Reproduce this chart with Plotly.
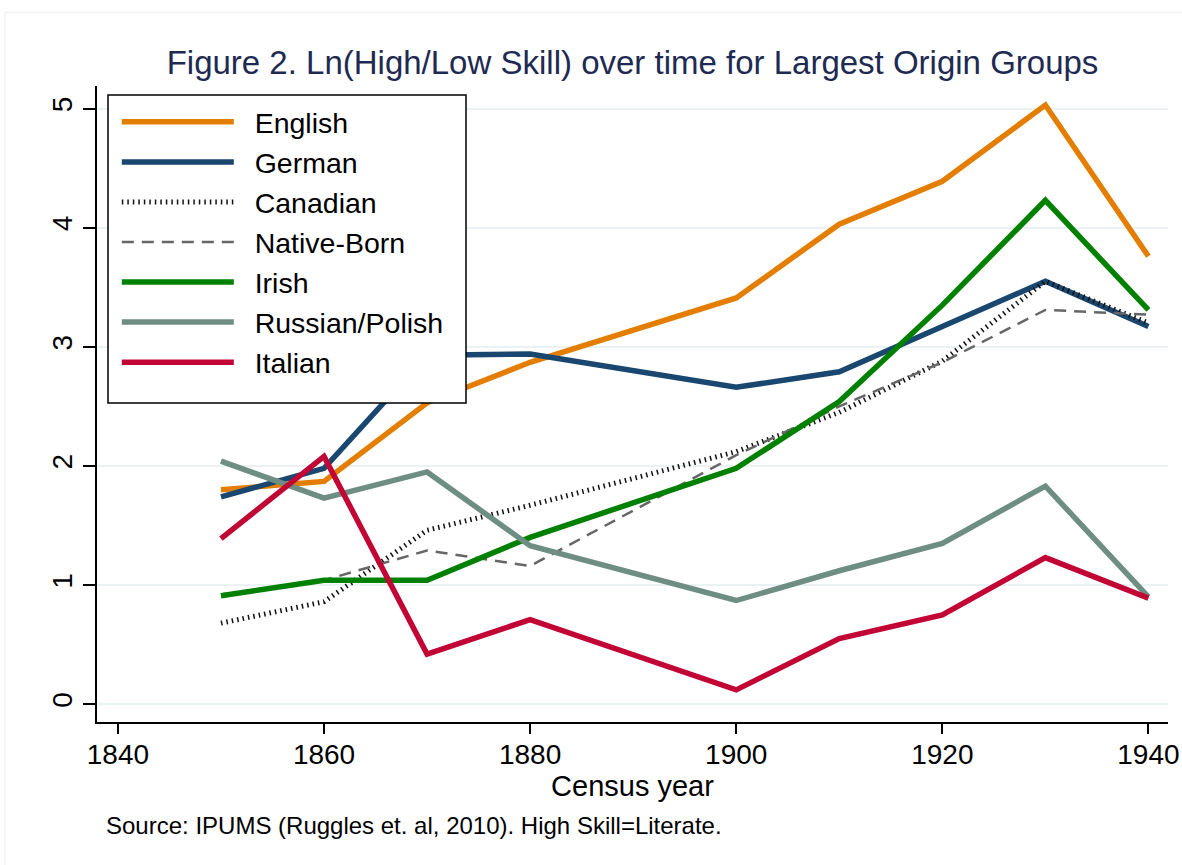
import plotly.graph_objects as go

years = [1850, 1860, 1870, 1880, 1900, 1910, 1920, 1930, 1940]
english = [1.80, 1.87, 2.53, 2.87, 3.41, 4.03, 4.39, 5.03, 3.76]
german = [1.74, 1.98, 2.93, 2.94, 2.66, 2.79, 3.17, 3.55, 3.17]
canadian = [0.68, 0.86, 1.46, 1.67, 2.12, 2.45, 2.88, 3.55, 3.20]
native = [0.92, 1.04, 1.29, 1.16, 2.09, 2.50, 2.87, 3.31, 3.27]
irish = [0.91, 1.04, 1.04, 1.40, 1.98, 2.54, 3.35, 4.23, 3.31]
russian = [2.04, 1.73, 1.95, 1.33, 0.87, 1.12, 1.35, 1.83, 0.90]
italian = [1.39, 2.08, 0.42, 0.71, 0.12, 0.55, 0.75, 1.23, 0.89]

x_ticks = [1840, 1860, 1880, 1900, 1920, 1940]
y_ticks = [0, 1, 2, 3, 4, 5]

series = [
    ("English", english, dict(color="#e37e00", width=5.5)),
    ("German", german, dict(color="#1a476f", width=5.5)),
    ("Canadian", canadian, dict(color="#111111", width=5, dash="1.5px,4px")),
    ("Native-Born", native, dict(color="#666666", width=2.5, dash="12px,8px")),
    ("Irish", irish, dict(color="#008000", width=5.5)),
    ("Russian/Polish", russian, dict(color="#6e8e84", width=5.5)),
    ("Italian", italian, dict(color="#c10534", width=5.5)),
]

NB = "\u00a0\u00a0"
fig = go.Figure()
for name, vals, line in series:
    fig.add_trace(go.Scatter(x=years, y=vals, name=NB + name, mode="lines", line=line,
                             legendgroup=name))

font = "Liberation Sans, Arial, sans-serif"
fig.update_layout(
    width=1182, height=865,
    margin=dict(l=97, r=14, t=86, b=143, autoexpand=False),
    paper_bgcolor="white", plot_bgcolor="white",
    font=dict(family=font, color="black"),
    title=dict(text="Figure 2. Ln(High/Low Skill) over time for Largest Origin Groups",
               xref="paper", x=0.5, xanchor="center", y=0.928, yanchor="middle",
               font=dict(size=33, color="#1e2a52", family=font)),
    showlegend=True,
    legend=dict(x=0.0185, y=0.983, xanchor="left", yanchor="top",
                borderwidth=0, bgcolor="rgba(0,0,0,0)",
                font=dict(size=28.5, family=font), itemwidth=112,
                tracegroupgap=5, traceorder="normal"),
    xaxis=dict(range=[1837.97, 1941.9], tickvals=x_ticks, automargin=False,
               showgrid=False, zeroline=False, showline=True, linecolor="black", linewidth=2,
               ticks="outside", ticklen=10, tickwidth=1.5, tickcolor="black",
               tickfont=dict(size=28, family=font), ticklabelstandoff=-4,
               title=dict(text="Census year", font=dict(size=29, family=font), standoff=0)),
    yaxis=dict(range=[-0.15, 5.19], tickvals=y_ticks, tickangle=-90, automargin=False,
               showgrid=True, gridcolor="#eaf2f3", gridwidth=2, zeroline=False,
               showline=True, linecolor="black", linewidth=2,
               ticks="outside", ticklen=12, tickwidth=1.5, tickcolor="black",
               tickfont=dict(size=28, family=font)),
    annotations=[dict(text="Source: IPUMS (Ruggles et. al, 2010). High Skill=Literate.",
                      xref="paper", yref="paper", x=0.0065, y=-0.163,
                      xanchor="left", yanchor="middle", showarrow=False,
                      font=dict(size=24, family=font))],
    shapes=[
        dict(type="rect", xref="paper", yref="paper", x0=-0.086, x1=1.2, y0=-0.5, y1=1.116,
             line=dict(color="#eeeeee", width=1), layer="below"),
        dict(type="rect", xref="paper", yref="paper",
             x0=(108 - 97) / 1071, x1=(466 - 97) / 1071,
             y0=(722 - 403) / 636, y1=(722 - 95) / 636,
             line=dict(color="black", width=1.5), fillcolor="white", layer="above"),
    ],
)

fig.write_html("out.html", config={"displayModeBar": False},
               post_script="document.body.style.margin='0';")
